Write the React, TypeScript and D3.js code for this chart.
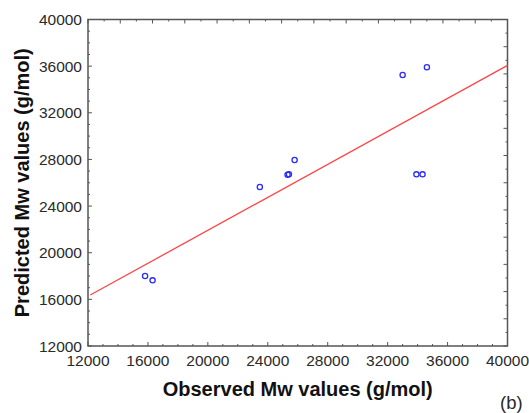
import React from "react";
import * as d3 from "d3";

const observed = [15810, 16310, 23470, 25320, 25410, 25790, 33000, 34620, 33920, 34330];
const predicted = [18000, 17630, 25640, 26690, 26720, 27950, 35240, 35900, 26720, 26720];
const fitX = [12150, 40000];
const fitY = [16370, 36070];
const xTickLabels = [12000, 16000, 20000, 24000, 28000, 32000, 36000, 40000];
const yTickLabels = [12000, 16000, 20000, 24000, 28000, 32000, 36000, 40000];
const xMinorTicks = d3.range(12000, 40001, 1000);
const yMinorTicks = d3.range(12000, 40001, 1000);
const topTickSteps = d3.range(0, 27);
const rightTickSteps = d3.range(0, 25);

const W = 529;
const H = 413;
const M = { left: 88, top: 19.5, right: 507.5, bottom: 346 };

export default function App() {
  const x = d3.scaleLinear().domain([12000, 40000]).range([M.left, M.right]);
  const y = d3.scaleLinear().domain([12000, 40000]).range([M.bottom, M.top]);
  const xTop = d3.scaleLinear().domain([0, 26]).range([M.left, M.right]);
  const yRight = d3.scaleLinear().domain([0, 24]).range([M.top, M.bottom]);
  const line = d3
    .line<number>()
    .x((d) => x(d))
    .y((_, i) => y(fitY[i]));
  const axisColor = "#555";
  const font = "'Liberation Sans', Arial, Helvetica, sans-serif";
  const textColor = "#2a2a2a";

  return (
    <svg
      width={W}
      height={H}
      style={{ position: "absolute", left: 0, top: 0, background: "#fff" }}
    >
      <rect x={0} y={0} width={W} height={H} fill="#fff" />
      {xMinorTicks.map((v) => (
        <line
          key={"xb" + v}
          x1={x(v)}
          x2={x(v)}
          y1={M.bottom}
          y2={M.bottom - (v % 4000 === 0 ? 4 : 2)}
          stroke={axisColor}
          strokeWidth={1}
        />
      ))}
      {yMinorTicks.map((v) => (
        <line
          key={"yl" + v}
          x1={M.left}
          x2={M.left + (v % 4000 === 0 ? 4 : 2)}
          y1={y(v)}
          y2={y(v)}
          stroke={axisColor}
          strokeWidth={1}
        />
      ))}
      {topTickSteps.map((s) => (
        <line
          key={"xt" + s}
          x1={xTop(s)}
          x2={xTop(s)}
          y1={M.top}
          y2={M.top + (s % 2 === 0 ? 4 : 2)}
          stroke={axisColor}
          strokeWidth={1}
        />
      ))}
      {rightTickSteps.map((s) => (
        <line
          key={"yr" + s}
          x1={M.right}
          x2={M.right - (s % 2 === 0 ? 4 : 2)}
          y1={yRight(s)}
          y2={yRight(s)}
          stroke={axisColor}
          strokeWidth={1}
        />
      ))}
      <rect
        x={M.left}
        y={M.top}
        width={M.right - M.left}
        height={M.bottom - M.top}
        fill="none"
        stroke={axisColor}
        strokeWidth={1.5}
      />
      <path d={line(fitX) || ""} fill="none" stroke="#ff4545" strokeWidth={1.3} />
      {observed.map((o, i) => (
        <circle
          key={"p" + i}
          cx={x(o)}
          cy={y(predicted[i])}
          r={2.6}
          fill="none"
          stroke="#2b2bff"
          strokeWidth={1.3}
        />
      ))}
      {xTickLabels.map((v) => (
        <text
          key={"xl" + v}
          x={x(v)}
          y={366}
          textAnchor="middle"
          fontFamily={font}
          fontSize={15.5}
          fill={textColor}
        >
          {v}
        </text>
      ))}
      {yTickLabels.map((v) => (
        <text
          key={"ylb" + v}
          x={82}
          y={y(v) + 5.5}
          textAnchor="end"
          fontFamily={font}
          fontSize={15.5}
          fill={textColor}
        >
          {v}
        </text>
      ))}
      <text
        x={(M.left + M.right) / 2}
        y={396}
        textAnchor="middle"
        fontFamily={font}
        fontSize={20}
        fontWeight="bold"
        fill="#111"
      >
        Observed Mw values (g/mol)
      </text>
      <text
        transform={`translate(28.5, ${(M.top + M.bottom) / 2}) rotate(-90)`}
        textAnchor="middle"
        fontFamily={font}
        fontSize={20}
        fontWeight="bold"
        fill="#111"
      >
        Predicted Mw values (g/mol)
      </text>
      <text x={500} y={409} fontFamily={font} fontSize={18.5} fill={textColor}>
        (b)
      </text>
    </svg>
  );
}
